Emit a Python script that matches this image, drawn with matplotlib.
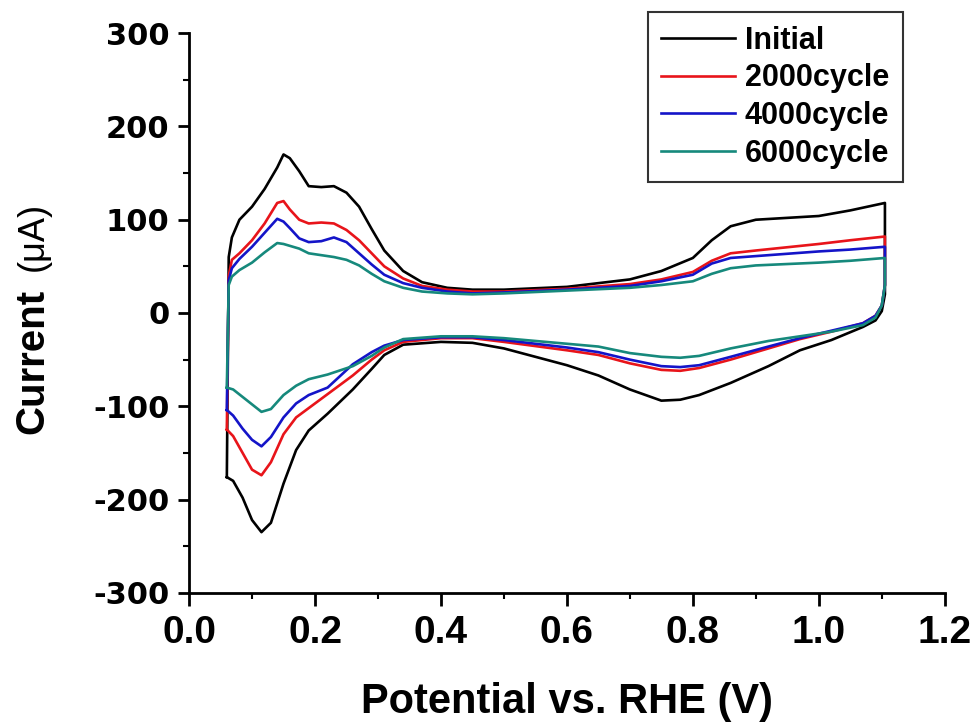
import numpy as np
import matplotlib
matplotlib.use("Agg")
import matplotlib.pyplot as plt
from matplotlib.ticker import MultipleLocator, FormatStrFormatter

#%% data

labels = ["Initial", "2000cycle", "4000cycle", "6000cycle"]
colors = ["black", "#e8141a", "#1414c8", "#16897c"]

# anodic sweep (forward)
x_up = [0.060, 0.063, 0.068, 0.08, 0.10, 0.12, 0.14, 0.15, 0.16, 0.175, 0.19, 0.21,
        0.23, 0.25, 0.27, 0.29, 0.31, 0.34, 0.37, 0.41, 0.45, 0.50, 0.60, 0.70,
        0.75, 0.80, 0.83, 0.86, 0.90, 1.00, 1.05, 1.105]
initial_up = [-176, 60, 81, 100, 114, 133, 156, 170, 166, 152, 136, 135,
              136, 129, 114, 90, 67, 45, 33, 27, 25, 25, 28, 36,
              45, 59, 78, 93, 100, 104, 110, 118]
c2000_up = [-125, 40, 57, 64, 78, 96, 118, 120, 111, 100, 96, 97,
            96, 89, 78, 64, 50, 37, 29, 25, 23, 23, 26, 31,
            36, 44, 56, 64, 67, 74, 78, 82]
c4000_up = [-104, 35, 48, 58, 71, 86, 101, 98, 91, 80, 76, 77,
            81, 76, 64, 52, 41, 32, 27, 23, 21, 22, 25, 29,
            34, 41, 53, 59, 61, 66, 68, 71]
c6000_up = [-80, 30, 39, 46, 54, 65, 75, 74, 72, 69, 64, 62,
            60, 57, 51, 42, 34, 27, 23, 21, 20, 21, 24, 27,
            30, 34, 42, 48, 51, 54, 56, 59]

# cathodic sweep (reverse)
x_down = [1.105, 1.10, 1.09, 1.07, 1.02, 0.97, 0.92, 0.86, 0.81, 0.78, 0.75, 0.70,
          0.65, 0.60, 0.50, 0.45, 0.40, 0.34, 0.31, 0.29, 0.26, 0.22, 0.19, 0.17,
          0.15, 0.13, 0.115, 0.10, 0.085, 0.07, 0.06]
initial_down = [20, 2, -8, -15, -29, -40, -57, -75, -88, -93, -94, -82,
                -67, -56, -38, -32, -31, -34, -45, -60, -82, -108, -126, -147,
                -183, -225, -235, -222, -198, -180, -176]
c2000_down = [30, 8, -3, -11, -20, -28, -38, -50, -59, -62, -61, -54,
              -45, -40, -31, -27, -27, -31, -40, -50, -67, -87, -102, -112,
              -130, -160, -174, -168, -150, -132, -125]
c4000_down = [30, 8, -3, -11, -19, -27, -36, -47, -56, -58, -57, -50,
              -42, -37, -29, -26, -26, -29, -35, -42, -55, -80, -88, -97,
              -112, -133, -143, -136, -124, -110, -104]
c6000_down = [30, 8, -5, -13, -20, -25, -30, -38, -46, -48, -47, -43,
              -36, -33, -27, -25, -25, -28, -37, -46, -57, -66, -71, -78,
              -88, -103, -106, -98, -90, -82, -80]

ups = [initial_up, c2000_up, c4000_up, c6000_up]
downs = [initial_down, c2000_down, c4000_down, c6000_down]

#%% plot

plt.rcParams['font.family'] = ['Liberation Sans', 'DejaVu Sans']
plt.rcParams['axes.unicode_minus'] = False

fig = plt.figure(figsize=(9.77, 7.22), dpi=100)
ax = fig.add_axes([0.1935, 0.179, 0.7735, 0.775])

for lab, col, up, down in zip(labels, colors, ups, downs):
    xs = np.concatenate([x_up, x_down])
    ys = np.concatenate([up, down])
    ax.plot(xs, ys, color=col, lw=1.9, label=lab)

ax.set_xlim(0, 1.2)
ax.set_ylim(-300, 300)
ax.xaxis.set_major_locator(MultipleLocator(0.2))
ax.xaxis.set_minor_locator(MultipleLocator(0.1))
ax.yaxis.set_major_locator(MultipleLocator(100))
ax.yaxis.set_minor_locator(MultipleLocator(50))
ax.xaxis.set_major_formatter(FormatStrFormatter('%.1f'))

ax.spines['top'].set_visible(False)
ax.spines['right'].set_visible(False)
for s in ['left', 'bottom']:
    ax.spines[s].set_linewidth(2)

ax.tick_params(axis='y', which='major', direction='out', length=8, width=2, pad=6)
ax.tick_params(axis='x', which='major', direction='out', length=9, width=2, pad=7)
ax.tick_params(which='minor', direction='out', length=4, width=1.5)
for t in ax.get_yticklabels():
    t.set_fontfamily('DejaVu Sans')
    t.set_fontweight('bold')
    t.set_fontsize(22)
for t in ax.get_xticklabels():
    t.set_fontweight('bold')
    t.set_fontsize(28)

ax.set_xlabel("Potential vs. RHE (V)", fontsize=30, fontweight='bold', labelpad=22)
# y label: bold word plus lighter unit, as in the original
fig.text(0.033, 0.499, "Current", rotation=90, ha='center', va='center',
         fontsize=29, fontweight='bold')
fig.text(0.034, 0.672, "(\u03bcA)", rotation=90, ha='center', va='center',
         fontsize=26)

leg = ax.legend(loc='upper right', bbox_to_anchor=(903 / 977, 1 - 12 / 722),
                bbox_transform=fig.transFigure, borderaxespad=0,
                fontsize=22, frameon=True, fancybox=False, edgecolor='black',
                handlelength=2.4, handletextpad=0.33, borderpad=0.45,
                labelspacing=0.25)
leg.get_frame().set_linewidth(1.5)
for t in leg.get_texts():
    t.set_fontweight('bold')

plt.savefig("out.png", dpi=100)
